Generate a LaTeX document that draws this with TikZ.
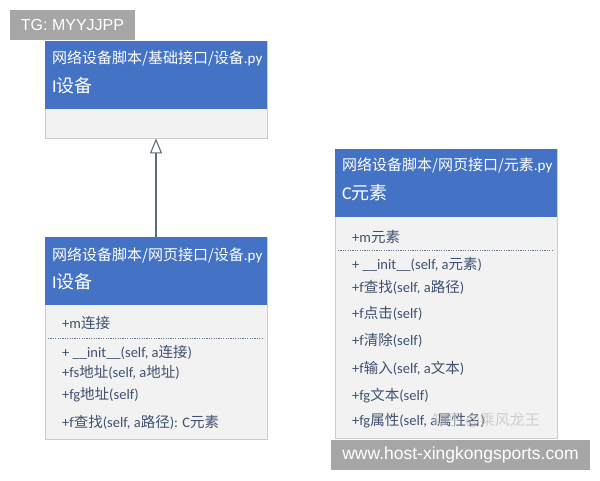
\documentclass[tikz,border=0pt]{standalone}
\usepackage{fontspec}
\setmainfont{Carlito}
\newfontfamily\cjk{Noto Sans CJK SC}
\newfontfamily\bannerfont{Liberation Sans}
\usetikzlibrary{arrows.meta}
\newcommand\zh[1]{{\cjk #1}}
\definecolor{hdr}{HTML}{4472C4}
\definecolor{bodyg}{HTML}{F2F2F2}
\definecolor{bord}{HTML}{CCCCCC}
\definecolor{txt}{HTML}{3F5070}
\definecolor{bann}{HTML}{A6A6A6}
\definecolor{arrowc}{HTML}{5B6B82}
\begin{document}
\begin{tikzpicture}[x=1pt,y=-1pt,
  classbox/.style={draw=bord, line width=0.8pt, fill=bodyg, minimum width=222pt, inner sep=0pt},
  hdrbox/.style={fill=hdr},
  hdtext/.style={anchor=base west, inner sep=0pt, text=white, font=\fontsize{15}{17}\selectfont},
  hdname/.style={anchor=base west, inner sep=0pt, text=white, font=\fontsize{18}{20}\selectfont},
  member/.style={anchor=base west, inner sep=0pt, text=txt, font=\fontsize{14.5}{16}\selectfont},
  sepline/.style={draw=txt!80, line width=1pt, dash pattern=on 1.2pt off 1.2pt},
  bannerbox/.style={fill=bann, text=white, inner sep=0pt, font=\bannerfont\fontsize{16}{18}\selectfont},
  inherit/.style={draw=arrowc, line width=1.4pt, -{Triangle[open, length=15pt, width=12pt, line width=1.1pt]}}
]
\useasboundingbox (0,0) rectangle (600,480);
\fill[white] (0,0) rectangle (600,480);

% class 1
\node[classbox, minimum height=97pt] (c1) at (156,89.5) {};
\fill[hdrbox] (45.4,41.4) rectangle (266.6,109);
\node[hdtext] (c1a) at (52,63.5) {\zh{网络设备脚本/基础接口/设备}.py};
\node[hdname] (c1b) at (52,92) {I\zh{设备}};

% class 2
\node[classbox, minimum height=202pt] (c2) at (156,338) {};
\fill[hdrbox] (45.4,237.4) rectangle (266.6,305);
\node[hdtext] (c2a) at (52,260.5) {\zh{网络设备脚本/网页接口/设备}.py};
\node[hdname] (c2b) at (52,288.5) {I\zh{设备}};
\node[member] (c2m1) at (62,328) {+m\zh{连接}};
\draw[sepline] (48,338) -- (264,338);
\node[member] (c2m2) at (62,357) {+ \_\_init\_\_(self, a\zh{连接})};
\node[member] (c2m3) at (62,377) {+fs\zh{地址}(self, a\zh{地址})};
\node[member] (c2m4) at (62,399) {+fg\zh{地址}(self)};
\node[member] (c2m5) at (62,427) {+f\zh{查找}(self, a\zh{路径}): C\zh{元素}};

% class 3
\node[classbox, minimum height=289pt] (c3) at (446,293.5) {};
\fill[hdrbox] (335.4,149.4) rectangle (556.6,217);
\node[hdtext] (c3a) at (342,170.5) {\zh{网络设备脚本/网页接口/元素}.py};
\node[hdname] (c3b) at (342,199.5) {C\zh{元素}};
\node[member] (c3m1) at (352,242) {+m\zh{元素}};
\draw[sepline] (338,250) -- (554,250);
\node[member] (c3m2) at (352,269) {+ \_\_init\_\_(self, a\zh{元素})};
\node[member] (c3m3) at (352,292) {+f\zh{查找}(self, a\zh{路径})};
\node[member] (c3m4) at (352,318) {+f\zh{点击}(self)};
\node[member] (c3m5) at (352,345) {+f\zh{清除}(self)};
\node[member] (c3m6) at (352,373) {+f\zh{输入}(self, a\zh{文本})};
\node[member] (c3m7) at (352,400) {+fg\zh{文本}(self)};
\node[member] (c3m8) at (352,425) {+fg\zh{属性}(self, a\zh{属性名})};
\node[anchor=base west, inner sep=0pt, text=gray!45, opacity=0.8, font=\fontsize{15}{17}\selectfont] (wm) at (432,425) {\zh{知乎 @乘风龙王}};

% inheritance
\draw[inherit] (c2.north) -- (c1.south);

% banners
\node[bannerbox, minimum width=125pt, minimum height=30pt] (tg) at (72.5,25) {TG: MYYJJPP};
\node[bannerbox, minimum width=259pt, minimum height=30pt, font=\bannerfont\fontsize{17.5}{19}\selectfont] (url) at (460.5,455) {www.host-xingkongsports.com};
\end{tikzpicture}
\end{document}
